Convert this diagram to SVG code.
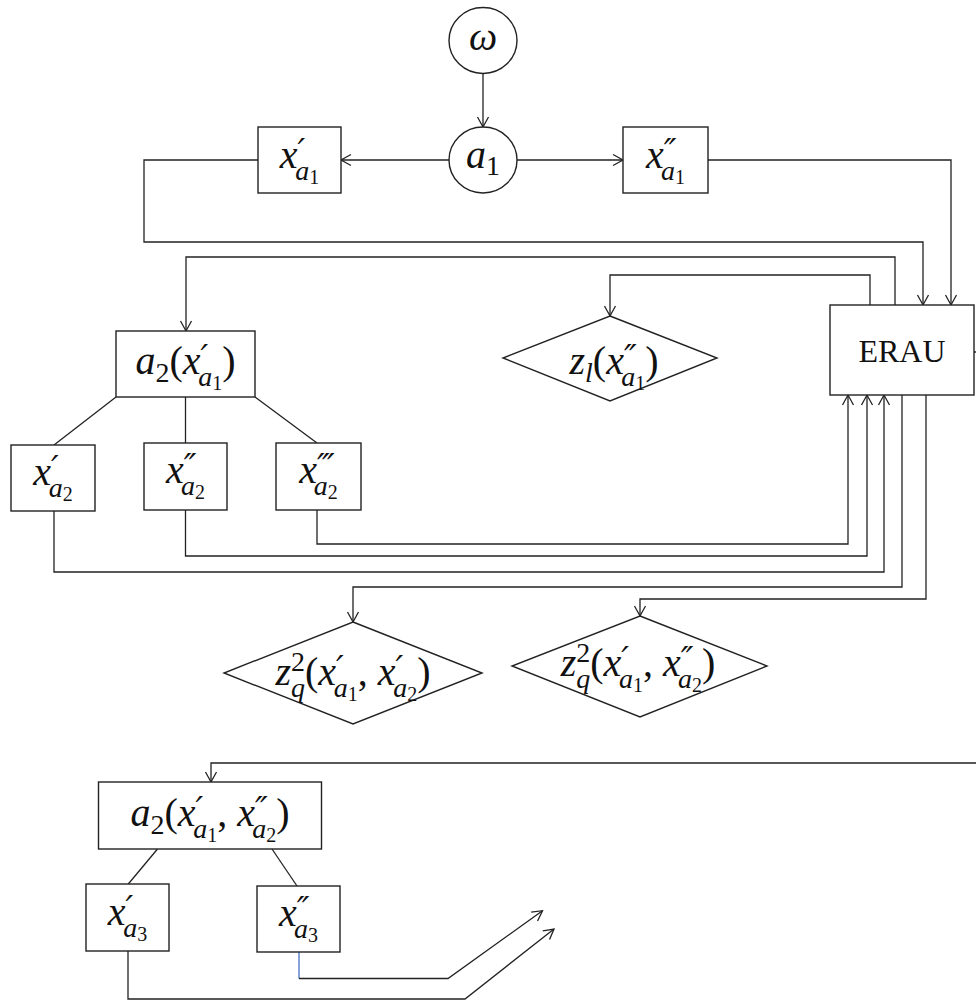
<svg xmlns="http://www.w3.org/2000/svg" width="976" height="1000" viewBox="0 0 976 1000">
<style>
.n{fill:#fff;stroke:#222;stroke-width:1.4}
.c{fill:none;stroke:#222;stroke-width:1.3}
.m{font-family:"Liberation Serif",serif;font-style:italic;font-size:40px;fill:#111;text-anchor:middle}
.s{font-size:28px}
.ss{font-size:20px}
.u{font-style:normal}
.p{font-family:"DejaVu Sans",sans-serif;font-style:italic;font-size:34px}
.t{font-family:"Liberation Serif",serif;font-size:32px;fill:#111;text-anchor:middle}
</style>
<defs>
<marker id="ah" viewBox="-12 -7 14 14" markerWidth="14" markerHeight="14" refX="0" refY="0" orient="auto" markerUnits="userSpaceOnUse">
<path d="M-10,-5.5 L0,0 L-10,5.5" fill="none" stroke="#222" stroke-width="1.3"/>
</marker>
</defs>
<rect width="976" height="1000" fill="#fff"/>
<g id="connectors">
<path class="c" d="M483,73 V127" marker-end="url(#ah)"/>
<path class="c" d="M449,160 H341" marker-end="url(#ah)"/>
<path class="c" d="M517,160 H623" marker-end="url(#ah)"/>
<path class="c" d="M258,160 H144 V242 H923 V305" marker-end="url(#ah)"/>
<path class="c" d="M708,160 H951 V305" marker-end="url(#ah)"/>
<path class="c" d="M895,305 V257 H186 V331" marker-end="url(#ah)"/>
<path class="c" d="M870,305 V275 H610 V316" marker-end="url(#ah)"/>
<path class="c" d="M116,397 L54,445"/>
<path class="c" d="M185.5,397 V443"/>
<path class="c" d="M255,397 L317,443"/>
<path class="c" d="M317,510 V544 H848 V395" marker-end="url(#ah)"/>
<path class="c" d="M185.5,510 V556 H867 V395" marker-end="url(#ah)"/>
<path class="c" d="M54,511 V572 H884 V395" marker-end="url(#ah)"/>
<path class="c" d="M902,395 V587 H353 V622" marker-end="url(#ah)"/>
<path class="c" d="M926,395 V599 H640 V616" marker-end="url(#ah)"/>
<path class="c" d="M974,352 H976"/>
<path class="c" d="M976,763 H211 V782" marker-end="url(#ah)"/>
<path class="c" d="M157.5,849 L128.3,884"/>
<path class="c" d="M272,849 L297,886"/>
<path fill="none" stroke="#4472c4" stroke-width="1.3" d="M299,952 V978.5"/>
<path class="c" d="M299,978.5 H448 L542.5,910.7" marker-end="url(#ah)"/>
<path class="c" d="M128,951 V999 H465 L554,929" marker-end="url(#ah)"/>
</g>
<g id="omega">
<ellipse class="n" cx="483" cy="40.5" rx="34" ry="33"/>
<text class="m" x="483" y="50">ω</text>
</g>
<g id="a1">
<ellipse class="n" cx="483" cy="160" rx="34" ry="33"/>
<text class="m" x="483" y="168">a<tspan class="s u" dy="7">1</tspan></text>
</g>
<g id="x1p">
<rect class="n" x="258" y="127" width="83" height="66"/>
<text class="m" x="299.5" y="168">x<tspan class="p" dy="-5">′</tspan><tspan class="s" dx="-10" dy="17">a</tspan><tspan class="ss u" dy="4">1</tspan></text>
</g>
<g id="x1pp">
<rect class="n" x="623" y="127" width="85" height="66"/>
<text class="m" x="665.5" y="168">x<tspan class="p" dy="-5">″</tspan><tspan class="s" dx="-15.5" dy="17">a</tspan><tspan class="ss u" dy="4">1</tspan></text>
</g>
<g id="erau">
<rect class="n" x="830" y="305" width="144" height="90"/>
<text class="t" x="902" y="362">ERAU</text>
</g>
<g id="a2">
<rect class="n" x="116" y="331" width="139" height="66"/>
<text class="m" x="185.5" y="374">a<tspan class="s u" dy="8">2</tspan><tspan class="u" dy="-8">(</tspan>x<tspan class="p" dy="-5">′</tspan><tspan class="s" dx="-10" dy="17">a</tspan><tspan class="ss u" dy="4">1</tspan><tspan class="u" dy="-16">)</tspan></text>
</g>
<g id="zl">
<polygon class="n" points="610,316 717,358 610,401 503,358"/>
<text class="m" x="614" y="374">z<tspan class="s" dy="8">l</tspan><tspan class="u" dy="-8">(</tspan>x<tspan class="p" dy="-5">″</tspan><tspan class="s" dx="-15.5" dy="17">a</tspan><tspan class="ss u" dy="4">1</tspan><tspan class="u" dy="-16">)</tspan></text>
</g>
<g id="x2p">
<rect class="n" x="11" y="445" width="84" height="66"/>
<text class="m" x="53" y="485">x<tspan class="p" dy="-5">′</tspan><tspan class="s" dx="-10" dy="17">a</tspan><tspan class="ss u" dy="4">2</tspan></text>
</g>
<g id="x2pp">
<rect class="n" x="144" y="443" width="83" height="67"/>
<text class="m" x="185.5" y="483">x<tspan class="p" dy="-5">″</tspan><tspan class="s" dx="-15.5" dy="17">a</tspan><tspan class="ss u" dy="4">2</tspan></text>
</g>
<g id="x2ppp">
<rect class="n" x="276" y="443" width="85" height="67"/>
<text class="m" x="318.5" y="483">x<tspan class="p" dy="-5">‴</tspan><tspan class="s" dx="-21" dy="17">a</tspan><tspan class="ss u" dy="4">2</tspan></text>
</g>
<g id="zq1">
<polygon class="n" points="353,622 482,673 353,724 224,673"/>
<text class="m" x="353" y="685">z<tspan class="s u" dy="-14">2</tspan><tspan class="s" dx="-14" dy="26">q</tspan><tspan class="u" dy="-12">(</tspan>x<tspan class="p" dy="-5">′</tspan><tspan class="s" dx="-10" dy="17">a</tspan><tspan class="ss u" dy="4">1</tspan><tspan class="u" dy="-16">, </tspan>x<tspan class="p" dy="-5">′</tspan><tspan class="s" dx="-10" dy="17">a</tspan><tspan class="ss u" dy="4">2</tspan><tspan class="u" dy="-16">)</tspan></text>
</g>
<g id="zq2">
<polygon class="n" points="640,616 767,666 640,717 512,666"/>
<text class="m" x="638" y="676">z<tspan class="s u" dy="-14">2</tspan><tspan class="s" dx="-14" dy="26">q</tspan><tspan class="u" dy="-12">(</tspan>x<tspan class="p" dy="-5">′</tspan><tspan class="s" dx="-10" dy="17">a</tspan><tspan class="ss u" dy="4">1</tspan><tspan class="u" dy="-16">, </tspan>x<tspan class="p" dy="-5">″</tspan><tspan class="s" dx="-15.5" dy="17">a</tspan><tspan class="ss u" dy="4">2</tspan><tspan class="u" dy="-16">)</tspan></text>
</g>
<g id="a2b">
<rect class="n" x="98.5" y="782" width="223" height="67"/>
<text class="m" x="210" y="826">a<tspan class="s u" dy="8">2</tspan><tspan class="u" dy="-8">(</tspan>x<tspan class="p" dy="-5">′</tspan><tspan class="s" dx="-10" dy="17">a</tspan><tspan class="ss u" dy="4">1</tspan><tspan class="u" dy="-16">, </tspan>x<tspan class="p" dy="-5">″</tspan><tspan class="s" dx="-15.5" dy="17">a</tspan><tspan class="ss u" dy="4">2</tspan><tspan class="u" dy="-16">)</tspan></text>
</g>
<g id="x3p">
<rect class="n" x="86" y="884" width="83" height="67"/>
<text class="m" x="127.5" y="925">x<tspan class="p" dy="-5">′</tspan><tspan class="s" dx="-10" dy="17">a</tspan><tspan class="ss u" dy="4">3</tspan></text>
</g>
<g id="x3pp">
<rect class="n" x="257" y="886" width="83" height="66"/>
<text class="m" x="298.5" y="926">x<tspan class="p" dy="-5">″</tspan><tspan class="s" dx="-15.5" dy="17">a</tspan><tspan class="ss u" dy="4">3</tspan></text>
</g>
</svg>
